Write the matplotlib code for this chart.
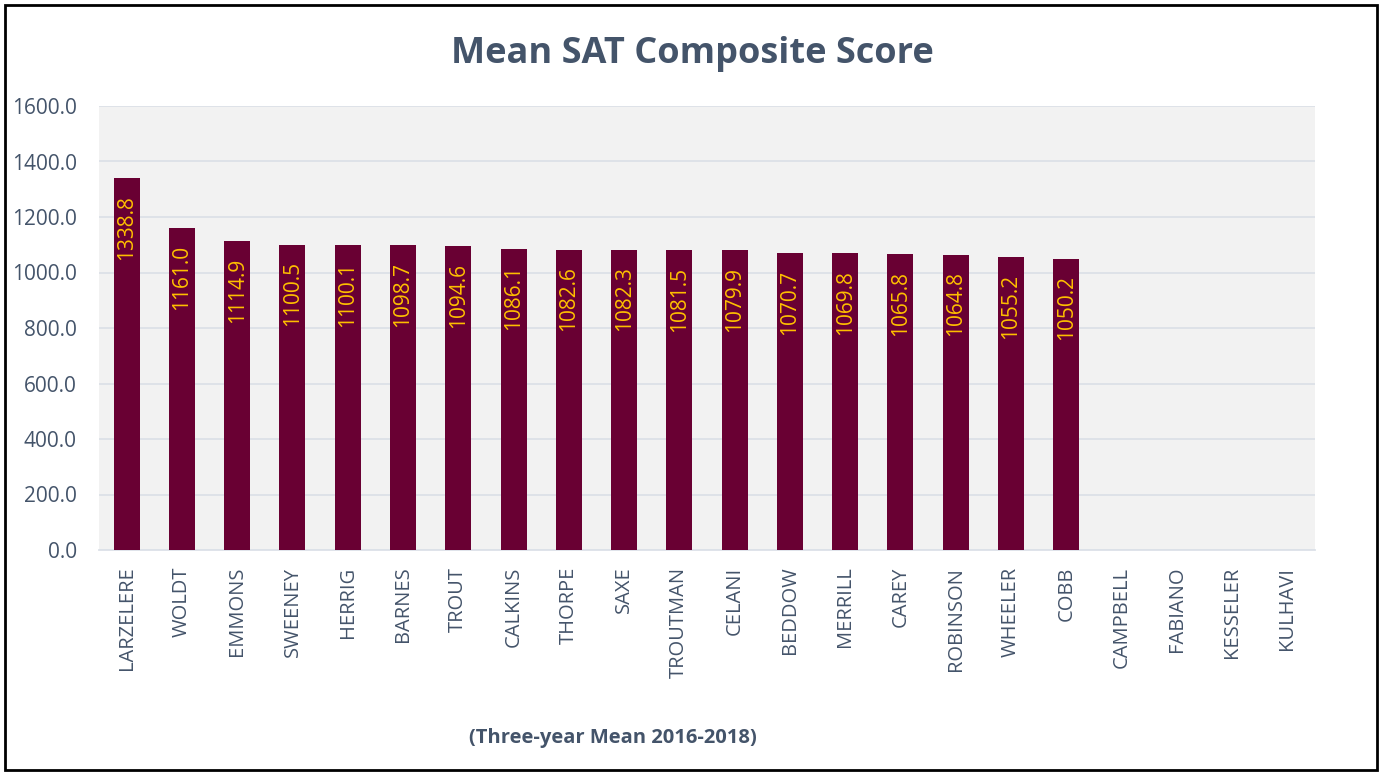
import matplotlib
matplotlib.use("Agg")
import matplotlib.pyplot as plt
from matplotlib.patches import Rectangle

schools = ["LARZELERE", "WOLDT", "EMMONS", "SWEENEY", "HERRIG", "BARNES", "TROUT",
           "CALKINS", "THORPE", "SAXE", "TROUTMAN", "CELANI", "BEDDOW", "MERRILL",
           "CAREY", "ROBINSON", "WHEELER", "COBB", "CAMPBELL", "FABIANO", "KESSELER", "KULHAVI"]
scores = [1338.8, 1161.0, 1114.9, 1100.5, 1100.1, 1098.7, 1094.6, 1086.1, 1082.6, 1082.3,
          1081.5, 1079.9, 1070.7, 1069.8, 1065.8, 1064.8, 1055.2, 1050.2,
          None, None, None, None]
yticks = [0, 200, 400, 600, 800, 1000, 1200, 1400, 1600]

title = "Mean SAT Composite Score"
subtitle = "(Three-year Mean 2016-2018)"

plt.rcParams['font.family'] = ['Open Sans', 'DejaVu Sans']
txt = '#44546A'
bar_color = '#690033'
lab_color = '#FFC000'

fig = plt.figure(figsize=(13.82, 7.73), dpi=100)
ax = fig.add_axes([99/1382, 1-550/773, (1315-99)/1382, (550-106)/773])
ax.set_facecolor('#F2F2F2')

x = list(range(len(schools)))
vals = [v if v is not None else 0 for v in scores]
bars = ax.bar(x, vals, width=0.47, color=bar_color, zorder=3)
for xi, v in zip(x, scores):
    if v is None:
        continue
    ax.annotate(f"{v:.1f}", xy=(xi, v), xytext=(0, -12), textcoords='offset points',
                rotation=90, ha='center', va='top', color=lab_color, fontsize=15, zorder=4)

ax.set_xlim(-0.5, len(schools) - 0.5)
ax.set_ylim(0, 1600)
ax.set_yticks(yticks)
ax.set_yticklabels([f"{t:.1f}" for t in yticks], fontsize=15, color=txt)
ax.set_xticks(x)
ax.set_xticklabels(schools, rotation=90, fontsize=14.5, color=txt)
ax.tick_params(axis='y', length=0, pad=16)
ax.tick_params(axis='x', length=0, pad=12)
ax.grid(axis='y', color='#DCE1E8', linewidth=1.3, zorder=0)
for s in ['top', 'right', 'left']:
    ax.spines[s].set_visible(False)
ax.spines['bottom'].set_color('#DCE1E8')
ax.spines['bottom'].set_linewidth(1.3)

fig.text(692/1382, 1-54/773, title, ha='center', va='center', fontsize=26,
         fontweight='bold', color=txt)
fig.text(613/1382, 1-738/773, subtitle, ha='center', va='center', fontsize=14.5,
         fontweight='bold', color=txt)

fig.patches.append(Rectangle((5/1382, 3/773), 1372/1382, 765/773, transform=fig.transFigure,
                             fill=False, edgecolor='black', linewidth=2))

fig.savefig('out.png', dpi=100)
